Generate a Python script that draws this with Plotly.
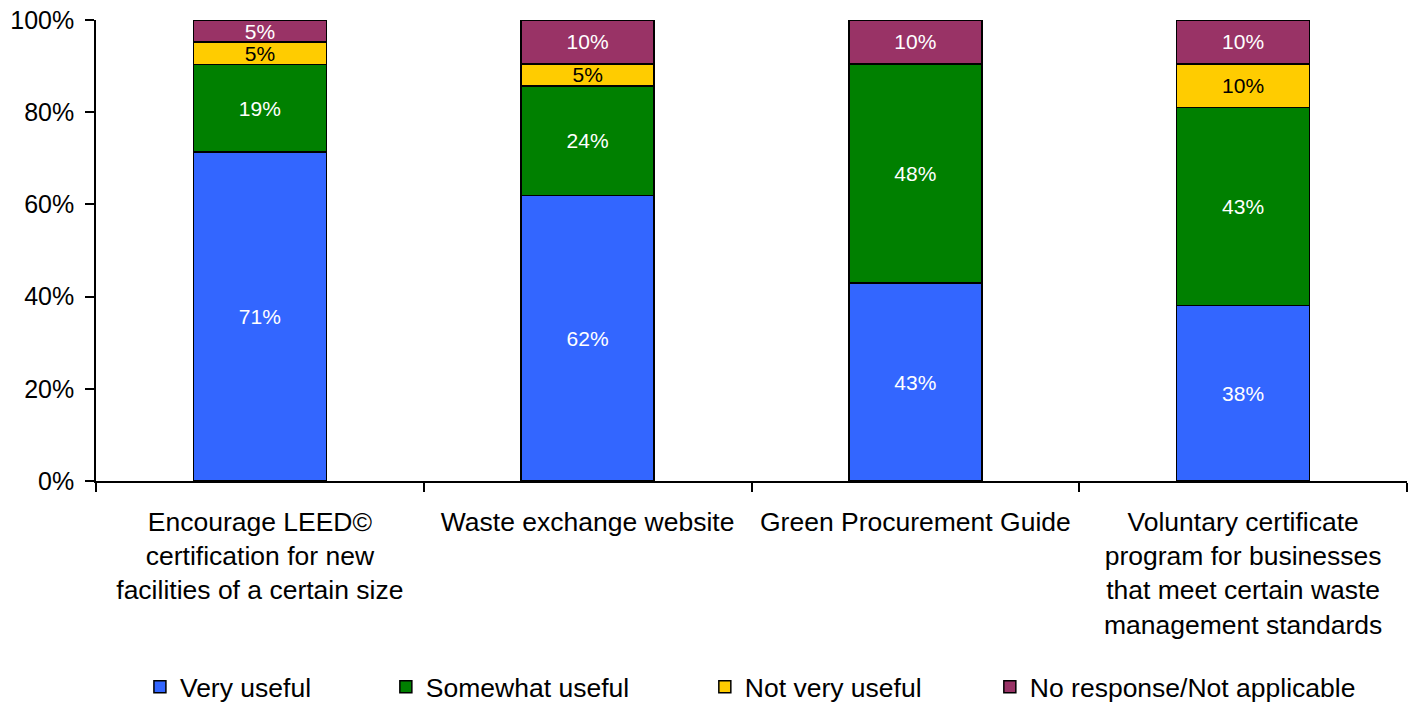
import plotly.graph_objects as go

categories = [
    "Encourage LEED©<br>certification for new<br>facilities of a certain size",
    "Waste exchange website",
    "Green Procurement Guide",
    "Voluntary certificate<br>program for businesses<br>that meet certain waste<br>management standards",
]
very_useful = [71.4, 61.9, 42.9, 38.1]
somewhat_useful = [19.0, 23.8, 47.6, 42.9]
not_very_useful = [4.8, 4.8, 0.0, 9.5]
no_response = [4.8, 9.5, 9.5, 9.5]
y_ticks = [0, 20, 40, 60, 80, 100]

series = [
    ("Very useful", very_useful, "#3366FF", "white", "legend"),
    ("Somewhat useful", somewhat_useful, "#008000", "white", "legend2"),
    ("Not very useful", not_very_useful, "#FFCC00", "black", "legend3"),
    ("No response/Not applicable", no_response, "#993366", "white", "legend4"),
]
legend_x = [0.0335, 0.2211, 0.4644, 0.6818]

FONT = "Liberation Sans, Arial, sans-serif"

fig = go.Figure()
for name, vals, color, tcolor, lg in series:
    fig.add_trace(go.Bar(
        x=categories,
        y=vals,
        name=name,
        legend=lg,
        marker=dict(color=color, line=dict(color="black", width=1.5)),
        text=[f"{round(v)}%" if v > 0 else "" for v in vals],
        textposition="inside",
        insidetextanchor="middle",
        constraintext="none",
        textfont=dict(color=tcolor, size=21, family=FONT),
        hoverinfo="skip",
    ))

legend_common = dict(
    orientation="h",
    xanchor="left",
    y=-0.447, yanchor="middle",
    font=dict(size=26.5, family=FONT, color="black"),
    bgcolor="rgba(0,0,0,0)",
)

fig.update_layout(
    barmode="stack",
    bargap=0.594,
    width=1412,
    height=702,
    margin=dict(l=96, r=5, t=20, b=221, autoexpand=False),
    plot_bgcolor="white",
    paper_bgcolor="white",
    font=dict(family=FONT, size=25, color="black"),
    uniformtext=dict(minsize=21, mode="show"),
    legend=dict(x=legend_x[0], **legend_common),
    legend2=dict(x=legend_x[1], **legend_common),
    legend3=dict(x=legend_x[2], **legend_common),
    legend4=dict(x=legend_x[3], **legend_common),
    showlegend=True,
)
fig.update_xaxes(
    showline=True, linecolor="black", linewidth=1.5,
    ticks="outside", tickson="boundaries", ticklen=9, tickcolor="black", tickwidth=1.5,
    showgrid=False, range=[-0.5, 3.5], automargin=False,
    ticklabelstandoff=16, ticklabeloverflow="allow",
    tickfont=dict(size=26.5, family=FONT),
)
fig.update_yaxes(
    range=[0, 100], tickmode="array", tickvals=y_ticks,
    ticktext=[f"{v}%" for v in y_ticks],
    showline=True, linecolor="black", linewidth=1.5,
    ticks="outside", ticklen=9, tickcolor="black", tickwidth=1.5,
    showgrid=False, zeroline=False, automargin=False,
    ticklabelstandoff=6, ticklabeloverflow="allow",
    tickfont=dict(size=25, family=FONT),
)

fig.write_html(
    "out.html",
    config={"displayModeBar": False},
    post_script="document.body.style.margin='0';document.body.style.overflow='hidden';",
)
